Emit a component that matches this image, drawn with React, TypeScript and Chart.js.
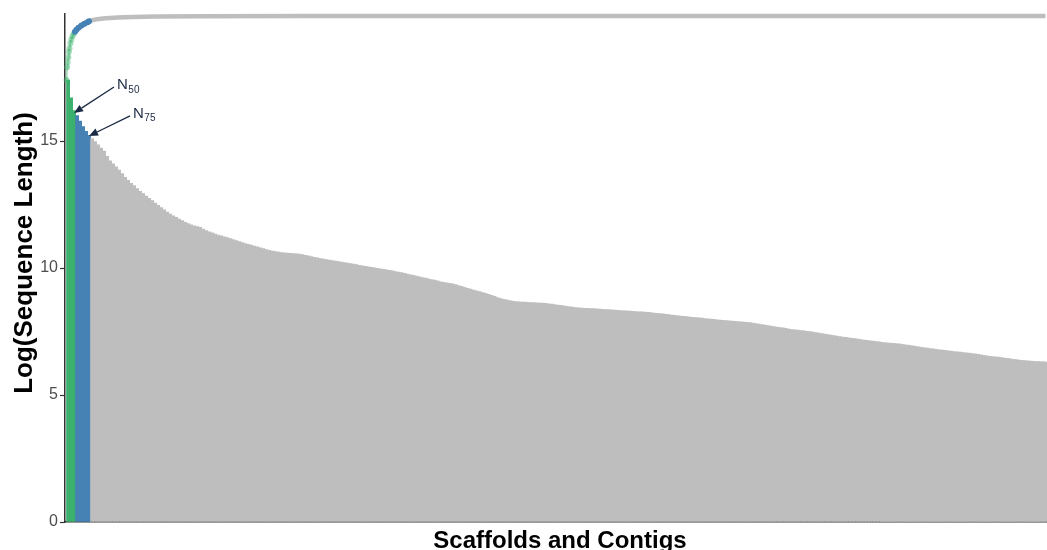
import React, { useEffect, useRef } from 'react';
import { Chart, registerables } from 'chart.js';

Chart.register(...registerables);

// Log(sequence length) of the sorted scaffolds/contigs
const greenLengths = [17.4, 16.7, 16.2];
const blueLengths = [16.0, 15.78, 15.57, 15.38, 15.22];
const grayLengths = [
  15.1, 14.98, 14.85, 14.72, 14.6, 14.4, 14.22, 14.1, 13.98, 13.86,
  13.72, 13.57, 13.45, 13.33, 13.24, 13.13, 13.02, 12.93, 12.83, 12.74,
  12.65, 12.56, 12.47, 12.38, 12.29, 12.2, 12.12, 12.05, 11.99, 11.93,
  11.87, 11.8, 11.75, 11.7, 11.66, 11.63, 11.6, 11.53, 11.47, 11.42,
  11.38, 11.34, 11.3, 11.27, 11.23, 11.2, 11.16, 11.12, 11.08, 11.04,
  11.0, 10.96, 10.93, 10.9, 10.86, 10.83, 10.79, 10.76, 10.73, 10.7,
  10.67, 10.65, 10.63, 10.61, 10.6, 10.59, 10.58, 10.57, 10.56, 10.55,
  10.53, 10.5, 10.48, 10.45, 10.42, 10.4, 10.37, 10.35, 10.33, 10.31,
  10.29, 10.27, 10.25, 10.23, 10.21, 10.19, 10.17, 10.15, 10.13, 10.11,
  10.09, 10.07, 10.05, 10.03, 10.01, 9.99, 9.97, 9.95, 9.93, 9.91,
  9.89, 9.86, 9.84, 9.82, 9.79, 9.76, 9.73, 9.71, 9.68, 9.65,
  9.62, 9.6, 9.57, 9.54, 9.52, 9.49, 9.46, 9.44, 9.42, 9.4,
  9.38, 9.35, 9.31, 9.28, 9.24, 9.2, 9.17, 9.13, 9.1, 9.07,
  9.03, 9.0, 8.96, 8.92, 8.88, 8.84, 8.8, 8.77, 8.75, 8.72,
  8.7, 8.68, 8.67, 8.66, 8.66, 8.65, 8.64, 8.64, 8.63, 8.62,
  8.62, 8.61, 8.59, 8.58, 8.56, 8.54, 8.53, 8.51, 8.49, 8.47,
  8.46, 8.44, 8.43, 8.42, 8.41, 8.41, 8.4, 8.4, 8.39, 8.38,
  8.37, 8.36, 8.36, 8.35, 8.34, 8.33, 8.32, 8.31, 8.31, 8.3,
  8.29, 8.28, 8.27, 8.27, 8.26, 8.25, 8.24, 8.23, 8.22, 8.21,
  8.2, 8.18, 8.17, 8.15, 8.14, 8.12, 8.11, 8.1, 8.09, 8.07,
  8.06, 8.05, 8.04, 8.03, 8.01, 8.0, 7.99, 7.98, 7.96, 7.95,
  7.94, 7.93, 7.92, 7.91, 7.9, 7.89, 7.88, 7.87, 7.86, 7.85,
  7.83, 7.81, 7.79, 7.77, 7.75, 7.73, 7.71, 7.69, 7.67, 7.65,
  7.64, 7.62, 7.6, 7.58, 7.57, 7.56, 7.54, 7.53, 7.51, 7.5,
  7.48, 7.46, 7.44, 7.42, 7.4, 7.38, 7.36, 7.34, 7.32, 7.3,
  7.28, 7.27, 7.25, 7.23, 7.22, 7.2, 7.18, 7.16, 7.15, 7.13,
  7.12, 7.1, 7.09, 7.07, 7.06, 7.05, 7.04, 7.03, 7.02, 7.01,
  6.99, 6.97, 6.96, 6.94, 6.92, 6.9, 6.88, 6.86, 6.85, 6.83,
  6.82, 6.8, 6.78, 6.77, 6.76, 6.74, 6.73, 6.71, 6.7, 6.69,
  6.67, 6.66, 6.65, 6.63, 6.62, 6.6, 6.58, 6.56, 6.54, 6.52,
  6.51, 6.5, 6.49, 6.47, 6.45, 6.44, 6.42, 6.4, 6.39, 6.37,
  6.36, 6.35, 6.34, 6.33, 6.32, 6.32, 6.31, 6.31, 6.3,
];

// Log(cumulative length) curve: position (in bar units) and value
const cumX = [0, 0.2, 0.4, 0.6, 0.8, 1.0, 1.3, 1.6, 2.0, 2.4, 2.8, 3.3, 4, 5, 6, 7, 7.5, 8, 10, 13, 17, 22, 30, 45, 80, 326];
const cumY = [17.4, 17.9, 18.1, 18.3, 18.5, 18.65, 18.85, 19.0, 19.12, 19.22, 19.3, 19.38, 19.46, 19.55, 19.62, 19.68, 19.71, 19.74, 19.79, 19.83, 19.86, 19.88, 19.9, 19.91, 19.92, 19.92];

const yTicks = [0, 5, 10, 15];
const nLabels = ['50', '75'];
const nAt = [2.5, 7.5];
const nValues = [16.1, 15.2];

const X_TITLE = 'Scaffolds and Contigs';
const Y_TITLE = 'Log(Sequence Length)';

const GREEN = '#3bb16d';
const GREEN_PT = 'rgba(59,177,109,0.45)';
const BLUE = '#4682b4';
const GRAY = '#bebebe';
const NAVY = '#1b2a44';
const FONT = '"Liberation Sans", Arial, Helvetica, sans-serif';

const lengths = [...greenLengths, ...blueLengths, ...grayLengths];
const labels = lengths.map((_, i) => String(i + 1));
const nGreen = greenLengths.length;
const nBlue = blueLengths.length;

const barColors = lengths.map((_, i) => (i < nGreen ? GREEN : i < nGreen + nBlue ? BLUE : GRAY));
const zoneOf = (x: number) => (x < nGreen - 0.5 + 0.01 ? 0 : x < nGreen + nBlue - 0.5 + 0.01 ? 1 : 2);

const arrowOffsets = [
  { dx: 40, dy: -26 },
  { dx: 41, dy: -20 },
];

const annotPlugin = {
  id: 'annots',
  afterDatasetsDraw(chart: any) {
    const ctx = chart.ctx as CanvasRenderingContext2D;
    const xs = chart.scales.xl;
    const ys = chart.scales.y;
    nLabels.forEach((sub, k) => {
      const tx = xs.getPixelForValue(nAt[k]);
      const ty = ys.getPixelForValue(nValues[k]);
      const sx = tx + arrowOffsets[k].dx;
      const sy = ty + arrowOffsets[k].dy;
      const ang = Math.atan2(ty - sy, tx - sx);
      const headLen = 9;
      const headW = 3.8;
      const bx = tx - headLen * Math.cos(ang);
      const by = ty - headLen * Math.sin(ang);
      ctx.save();
      ctx.strokeStyle = NAVY;
      ctx.fillStyle = NAVY;
      ctx.lineWidth = 1.3;
      ctx.beginPath();
      ctx.moveTo(sx, sy);
      ctx.lineTo(bx, by);
      ctx.stroke();
      ctx.beginPath();
      ctx.moveTo(tx, ty);
      ctx.lineTo(bx + headW * Math.sin(ang), by - headW * Math.cos(ang));
      ctx.lineTo(bx - headW * Math.sin(ang), by + headW * Math.cos(ang));
      ctx.closePath();
      ctx.fill();
      ctx.textAlign = 'left';
      ctx.textBaseline = 'alphabetic';
      ctx.font = `15px ${FONT}`;
      ctx.fillText('N', sx + 3, sy + 2);
      const w = ctx.measureText('N').width;
      ctx.font = `10px ${FONT}`;
      ctx.fillText(sub, sx + 3 + w + 0.5, sy + 5.5);
      ctx.restore();
    });
  },
  afterDraw(chart: any) {
    const ctx = chart.ctx as CanvasRenderingContext2D;
    const area = chart.chartArea;
    ctx.save();
    ctx.fillStyle = '#000000';
    ctx.textBaseline = 'alphabetic';
    ctx.textAlign = 'center';
    ctx.font = `bold 24px ${FONT}`;
    ctx.fillText(X_TITLE, (area.left + area.right) / 2 + 4, area.bottom + 26);
    ctx.translate(32, (area.top + area.bottom) / 2 - 15);
    ctx.rotate(-Math.PI / 2);
    ctx.font = `bold 26px ${FONT}`;
    ctx.fillText(Y_TITLE, 0, 0);
    ctx.restore();
  },
};

export default function App() {
  const ref = useRef<HTMLCanvasElement>(null);

  useEffect(() => {
    if (!ref.current) return;
    Chart.defaults.font.family = FONT;
    const chart = new Chart(ref.current, {
      type: 'bar',
      data: {
        labels,
        datasets: [
          {
            type: 'line',
            xAxisID: 'xl',
            yAxisID: 'y',
            order: 0,
            data: cumX.map((x, i) => ({ x, y: cumY[i] })),
            borderColor: GRAY,
            borderWidth: 4,
            tension: 0,
            clip: false as any,
            segment: {
              borderColor: (c: any) => {
                const z = zoneOf(c.p0.parsed.x);
                return z === 0 ? GREEN_PT : z === 1 ? BLUE : GRAY;
              },
              borderWidth: (c: any) => {
                const z = zoneOf(c.p0.parsed.x);
                return z === 0 ? 2 : z === 1 ? 5 : 4.5;
              },
            },
            pointRadius: cumX.map((x) => (zoneOf(x) === 2 ? 0 : 3)),
            pointBackgroundColor: cumX.map((x) => (zoneOf(x) === 0 ? GREEN_PT : BLUE)),
            pointBorderWidth: 0,
          } as any,
          {
            type: 'bar',
            xAxisID: 'x',
            yAxisID: 'y',
            order: 1,
            data: lengths,
            backgroundColor: barColors,
            borderWidth: 0,
            categoryPercentage: 1,
            barPercentage: 1,
            barThickness: 3.15,
          } as any,
        ],
      },
      options: {
        responsive: false,
        animation: false,
        devicePixelRatio: 1,
        layout: { autoPadding: false, padding: { top: 14, left: 0, right: 0, bottom: 0 } },
        datasets: { bar: { categoryPercentage: 1, barPercentage: 1 } },
        plugins: {
          legend: { display: false },
          tooltip: { enabled: false },
        },
        scales: {
          x: {
            type: 'category',
            offset: true,
            ticks: { display: false },
            grid: { display: false, drawTicks: false },
            border: { display: true, color: '#333333', width: 1.5 },
            afterFit: (s: any) => {
              s.height = 40;
              s.paddingLeft = 0;
              s.paddingRight = 0;
            },
          },
          xl: {
            type: 'linear',
            display: false,
            offset: false,
            grid: { offset: false },
            ticks: { display: false },
            min: -0.5,
            max: lengths.length - 0.5,
            afterFit: (s: any) => {
              s.height = 0;
              s.paddingLeft = 0;
              s.paddingRight = 0;
            },
          },
          y: {
            type: 'linear',
            min: 0,
            max: 20,
            afterBuildTicks: (s: any) => {
              s.ticks = yTicks.map((v) => ({ value: v }));
            },
            afterFit: (s: any) => {
              s.width = 65;
              s.paddingTop = 0;
              s.paddingBottom = 0;
            },
            grid: {
              display: true,
              drawOnChartArea: false,
              drawTicks: true,
              tickLength: 5,
              tickColor: '#333333',
              tickWidth: 1.2,
            },
            border: { display: true, color: '#333333', width: 1.5 },
            ticks: {
              padding: 2,
              color: '#4d4d4d',
              font: { size: 16, family: FONT },
            },
          },
        },
      } as any,
      plugins: [annotPlugin],
    });
    return () => chart.destroy();
  }, []);

  return (
    <div
      style={{
        position: 'fixed',
        left: 0,
        top: 0,
        width: 1047,
        height: 550,
        overflow: 'hidden',
        background: '#ffffff',
      }}
    >
      <canvas ref={ref} width={1047} height={562} style={{ display: 'block' }} />
    </div>
  );
}
